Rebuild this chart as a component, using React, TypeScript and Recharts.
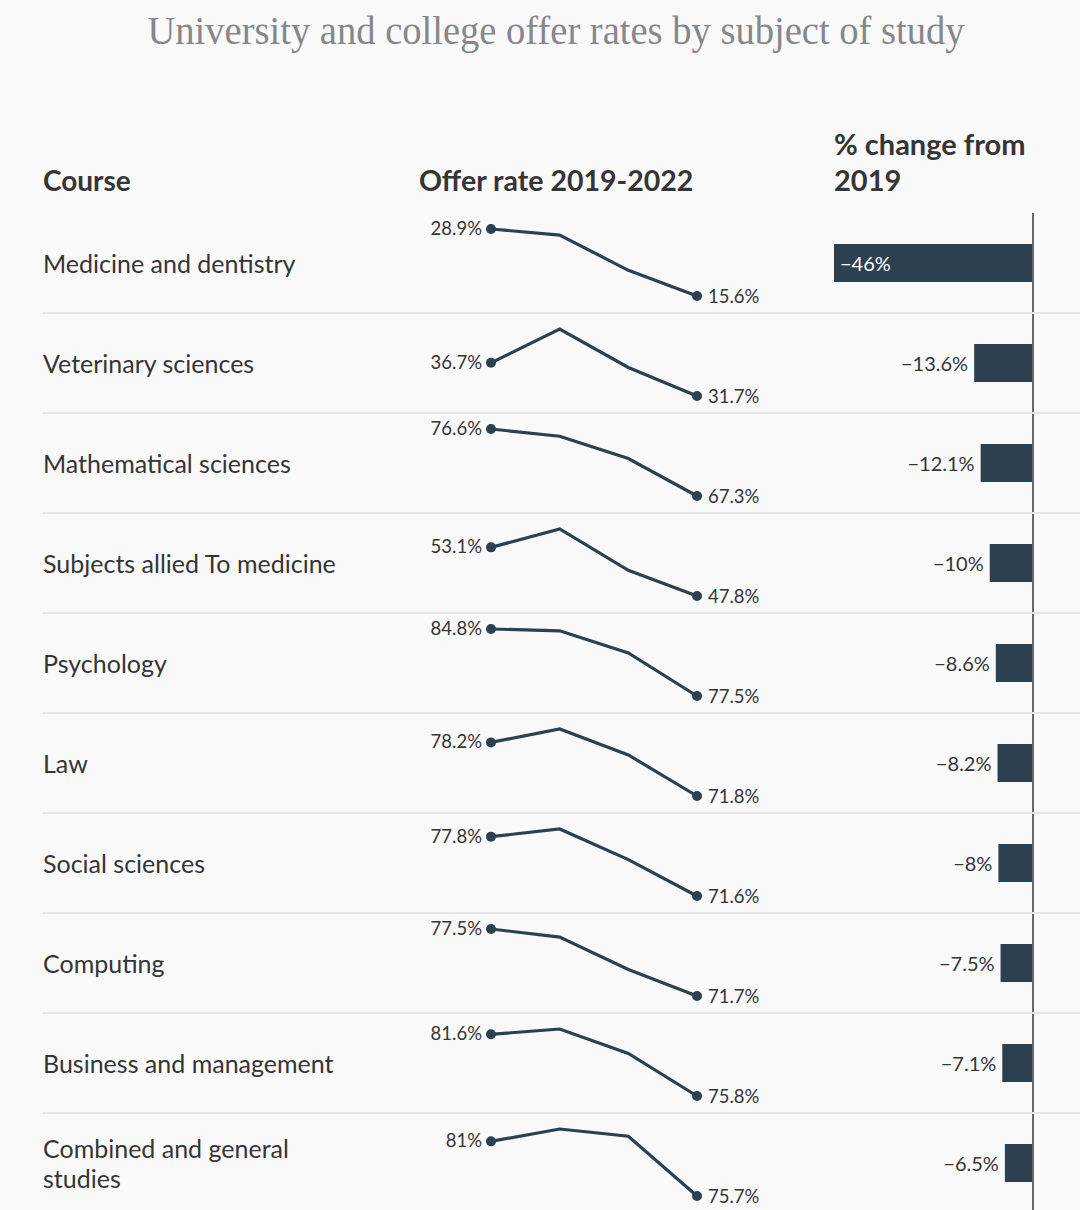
import { LineChart, Line, XAxis, YAxis, LabelList, BarChart, Bar, ReferenceLine } from 'recharts'

const courses = [
  'Medicine and dentistry',
  'Veterinary sciences',
  'Mathematical sciences',
  'Subjects allied To medicine',
  'Psychology',
  'Law',
  'Social sciences',
  'Computing',
  'Business and management',
  'Combined and general\nstudies',
]

const years = ['2019', '2020', '2021', '2022']

// offer rates (%)
const rate2019 = [28.9, 36.7, 76.6, 53.1, 84.8, 78.2, 77.8, 77.5, 81.6, 81]
const rate2020 = [27.7, 41.8, 75.6, 55.1, 84.6, 79.8, 78.6, 76.8, 82.1, 82.2]
const rate2021 = [20.7, 36.0, 72.5, 50.6, 82.2, 76.7, 75.4, 74.0, 79.8, 81.5]
const rate2022 = [15.6, 31.7, 67.3, 47.8, 77.5, 71.8, 71.6, 71.7, 75.8, 75.7]

const changeFrom2019 = [-46, -13.6, -12.1, -10, -8.6, -8.2, -8, -7.5, -7.1, -6.5]

const DARK = '#2c4050'
const TEXT = '#353535'
const FONT = "Lato, 'Open Sans', sans-serif"
const ROW_TOP = 213
const ROW_H = 100

const pct = (v: number) => `${v}%`
const neg = (v: number) => `\u2212${Math.abs(v)}%`

function Sparkline({ i }: { i: number }) {
  const data = years.map((year, k) => ({
    year,
    rate: [rate2019, rate2020, rate2021, rate2022][k][i],
  }))

  const renderDot = (props: any) => {
    const { cx, cy, index } = props
    if (index !== 0 && index !== data.length - 1) return <g key={`d-${index}`} />
    return <circle key={`d-${index}`} cx={cx} cy={cy} r={5} fill={DARK} />
  }

  const renderLabel = (props: any) => {
    const { x, y, value, index } = props
    if (index === 0) {
      return (
        <text x={x - 9} y={y - 1} textAnchor="end" dominantBaseline="central" fontSize={18.5} fill={TEXT} fontFamily={FONT}>
          {pct(value)}
        </text>
      )
    }
    if (index === data.length - 1) {
      return (
        <text x={x + 11} y={y} textAnchor="start" dominantBaseline="central" fontSize={18.5} fill={TEXT} fontFamily={FONT}>
          {pct(value)}
        </text>
      )
    }
    return null
  }

  return (
    <LineChart width={400} height={ROW_H} data={data} margin={{ top: 16, right: 103, bottom: 17, left: 91 }}>
      <XAxis dataKey="year" hide />
      <YAxis hide domain={['dataMin', 'dataMax']} />
      <Line
        dataKey="rate"
        stroke={DARK}
        strokeWidth={3.2}
        dot={renderDot}
        activeDot={false}
        isAnimationActive={false}
      >
        <LabelList dataKey="rate" content={renderLabel} />
      </Line>
    </LineChart>
  )
}

export default function App() {
  const barData = courses.map((name, i) => ({ name, change: changeFrom2019[i] }))

  const renderBarLabel = (props: any) => {
    const { x, y, width, height, value } = props
    const left = Math.min(x, x + width)
    const cy = y + height / 2
    if (Math.abs(width) > 100) {
      return (
        <text x={left + 6} y={cy} textAnchor="start" dominantBaseline="central" fontSize={20} fill="#ffffff" fontFamily={FONT}>
          {neg(value)}
        </text>
      )
    }
    return (
      <text x={left - 6} y={cy} textAnchor="end" dominantBaseline="central" fontSize={20} fill={TEXT} fontFamily={FONT}>
        {neg(value)}
      </text>
    )
  }

  return (
    <div style={{ width: 1080, height: 1210, position: 'relative', overflow: 'hidden', background: '#f9f9f9', fontFamily: FONT }}>
      <style>{'body{margin:0}'}</style>

      <svg width={1080} height={70} style={{ position: 'absolute', left: 0, top: 0 }}>
        <text
          x={556}
          y={44}
          textAnchor="middle"
          fontSize={40}
          fontFamily="'Liberation Serif', serif"
          fill="#86878b"
          textLength={817}
          lengthAdjust="spacingAndGlyphs"
        >
          University and college offer rates by subject of study
        </text>
      </svg>

      <div style={{ position: 'absolute', left: 43, top: 162, fontSize: 28, fontWeight: 700, color: TEXT, lineHeight: '36px' }}>
        Course
      </div>
      <div style={{ position: 'absolute', left: 419, top: 162, fontSize: 28.5, fontWeight: 700, color: TEXT, lineHeight: '36px' }}>
        Offer rate 2019-2022
      </div>
      <div style={{ position: 'absolute', left: 834, top: 126, fontSize: 29, fontWeight: 700, color: TEXT, lineHeight: '36px' }}>
        % change from
        <br />
        2019
      </div>

      {/* % change bars, one chart spanning all rows */}
      <div style={{ position: 'absolute', left: 780, top: ROW_TOP }}>
        <BarChart
          width={300}
          height={ROW_H * courses.length}
          data={barData}
          layout="vertical"
          margin={{ top: 0, right: 47, bottom: 0, left: 54 }}
          barCategoryGap={0}
        >
          <XAxis type="number" domain={[-46, 0]} hide />
          <YAxis type="category" dataKey="name" hide />
          <Bar dataKey="change" fill={DARK} barSize={38} isAnimationActive={false}>
            <LabelList dataKey="change" content={renderBarLabel} />
          </Bar>
          <ReferenceLine x={0} stroke="#6a6a6a" strokeWidth={2} />
        </BarChart>
      </div>

      {courses.map((name, i) => (
        <div key={name} style={{ position: 'absolute', left: 0, top: ROW_TOP + i * ROW_H, width: 1080, height: ROW_H }}>
          <div
            style={{
              position: 'absolute',
              left: 43,
              top: 0,
              height: ROW_H,
              display: 'flex',
              alignItems: 'center',
              fontSize: 25,
              lineHeight: '30px',
              color: TEXT,
              whiteSpace: 'pre-line',
            }}
          >
            {name}
          </div>
          <div style={{ position: 'absolute', left: 400, top: 0 }}>
            <Sparkline i={i} />
          </div>
          {i > 0 && (
            <div style={{ position: 'absolute', left: 43, right: 0, top: -1, height: 2, background: '#e6e6e6' }} />
          )}
        </div>
      ))}
    </div>
  )
}
